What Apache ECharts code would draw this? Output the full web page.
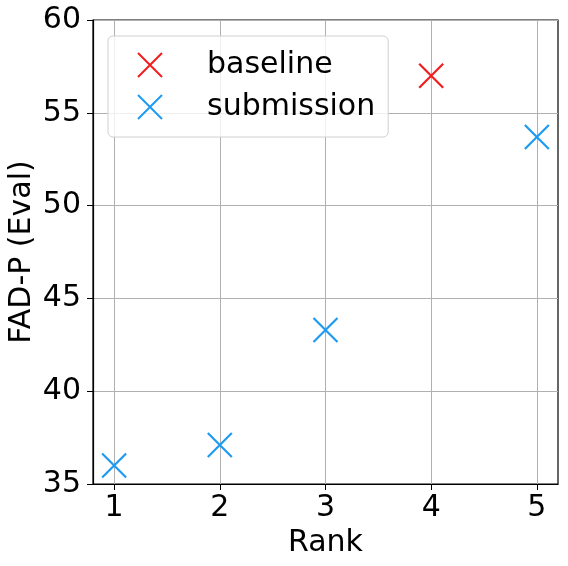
<!DOCTYPE html>
<html>
<head>
<meta charset="utf-8">
<script src="https://cdn.jsdelivr.net/npm/echarts@6/dist/echarts.min.js"></script>
<style>
  html, body { margin: 0; padding: 0; background: #fff; }
  #chart { width: 568px; height: 566px; }
</style>
</head>
<body>
<div id="chart"></div>
<script>
// ranks and FAD-P (Eval) scores
const baselineRanks = [4]
const baselineScores = [57.0]
const submissionRanks = [1, 2, 3, 5]
const submissionScores = [36.0, 37.1, 43.3, 53.7]
const rankTicks = [1, 2, 3, 4, 5]

const RED = '#f01e1e'
const BLUE = '#1e9bf0'
const CROSS = 'path://M0,0L10,10M10,0L0,10'
const FONT = 'DejaVu Sans'

const chart = echarts.init(document.getElementById('chart'))

chart.setOption({
  animation: false,
  backgroundColor: '#fff',
  grid: {
    left: 93, right: 10, top: 20, bottom: 82,
    outerBoundsMode: 'none', containLabel: false,
    show: true, borderColor: '#000', borderWidth: 1.2, backgroundColor: 'transparent'
  },
  legend: {
    left: 108, top: 36,
    orient: 'vertical',
    padding: [14, 13, 15, 29],
    itemGap: 12,
    itemWidth: 24, itemHeight: 24,
    backgroundColor: 'rgba(255,255,255,0.8)',
    borderColor: '#d0d0d0', borderWidth: 1, borderRadius: 5,
    textStyle: { fontFamily: FONT, fontSize: 30, color: '#000', lineHeight: 30, padding: [0, 0, 0, 40] },
    data: ['baseline', 'submission']
  },
  xAxis: {
    type: 'value',
    min: 0.8, max: 5.2,
    name: 'Rank', nameLocation: 'middle', nameGap: 44,
    nameTextStyle: { fontFamily: FONT, fontSize: 30, color: '#000' },
    axisLine: { show: true, lineStyle: { color: '#000', width: 1.2 } },
    axisTick: { show: true, length: 6, customValues: rankTicks, lineStyle: { color: '#000' } },
    axisLabel: { customValues: rankTicks, fontFamily: FONT, fontSize: 30, color: '#000', margin: 9 },
    splitLine: { show: true, lineStyle: { color: '#b0b0b0', width: 1 } }
  },
  yAxis: {
    type: 'value',
    min: 35, max: 60, interval: 5,
    name: 'FAD-P (Eval)', nameLocation: 'middle', nameGap: 56, nameRotate: 90,
    nameMoveOverlap: false,
    nameTextStyle: { fontFamily: FONT, fontSize: 30, color: '#000' },
    axisLine: { show: true, lineStyle: { color: '#000', width: 1.2 } },
    axisTick: { show: true, length: 6, lineStyle: { color: '#000' } },
    axisLabel: { fontFamily: FONT, fontSize: 30, color: '#000', margin: 12 },
    splitLine: { show: true, lineStyle: { color: '#b0b0b0', width: 1 } }
  },
  series: [
    {
      name: 'baseline',
      type: 'scatter',
      symbol: CROSS, symbolSize: 24,
      itemStyle: { color: 'transparent', borderColor: RED, borderWidth: 2.2, opacity: 1 },
      data: baselineRanks.map((r, i) => [r, baselineScores[i]])
    },
    {
      name: 'submission',
      type: 'scatter',
      symbol: CROSS, symbolSize: 24,
      itemStyle: { color: 'transparent', borderColor: BLUE, borderWidth: 2.2, opacity: 1 },
      data: submissionRanks.map((r, i) => [r, submissionScores[i]])
    }
  ]
})
</script>
</body>
</html>
